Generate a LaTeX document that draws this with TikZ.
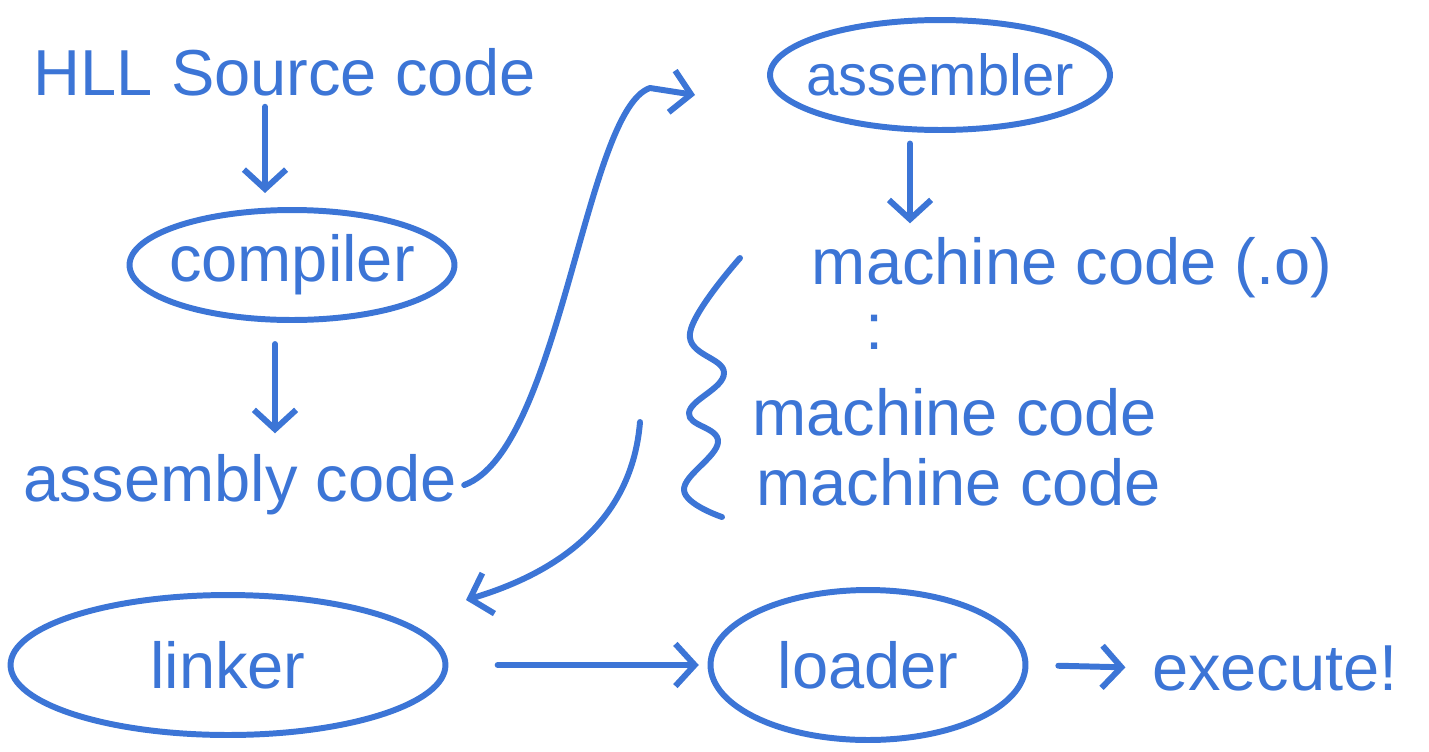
\documentclass[tikz,border=0pt]{standalone}
\usepackage{fontspec}
\setmainfont{Liberation Sans}
\usepackage{xcolor}
\usepackage{tikz}
\usetikzlibrary{positioning,shapes,arrows.meta}
\definecolor{pen}{RGB}{60,117,214}

\begin{document}
\begin{tikzpicture}[x=0.02cm,y=-0.02cm,
    pen/.style={draw=pen,line width=3.4pt,line cap=round,line join=round},
    word/.style={text=pen,font=\fontsize{37}{44}\selectfont,inner sep=0pt},
    oval/.style={ellipse,pen,text=pen,font=\fontsize{37}{44}\selectfont,inner xsep=-25pt,inner ysep=0pt},
    arrow/.style={pen,-{Straight Barb[length=11pt,width=24pt,line width=3.4pt]}}]
    \useasboundingbox (0,0) rectangle (1429,751);
    \node[word] (src) at (285,72) {HLL Source code};
    \node[oval,minimum width=6.5cm,minimum height=2.2cm] (comp) at (292,265) {compiler};
    \node[word] (asm) at (240,485) {assembly code};
    \node[oval,minimum width=6.8cm,minimum height=2.2cm,font=\fontsize{33}{40}\selectfont] (asmr) at (940,75) {assembler};
    \node[word] (mc) at (1072,268) {machine code (.o)};
    \node[word] (dots) at (875,332) {:};
    \node[word,anchor=west] (mc2) at (752,412) {machine code};
    \node[word,anchor=west] (mc3) at (756,482) {machine code};
    \node[oval,minimum width=8.7cm,minimum height=2.8cm] (link) at (228,665) {linker};
    \node[oval,minimum width=6.3cm,minimum height=3cm] (load) at (868,665) {loader};
    \node[word] (exec) at (1275,668) {execute!};
    \coordinate (asmin) at (695,95);
    \coordinate (bracetip) at (640,422);
    \coordinate (linkin) at (466,600);
    % flow
    \draw[arrow,shorten <=6pt,shorten >=8pt] (src.south -| 265,0) -- (comp.north -| 265,0);
    \draw[arrow,shorten <=12pt,shorten >=12pt] (comp.south -| 275,0) -- (asm.north -| 275,0);
    \draw[arrow] ([xshift=4pt]asm.east) .. controls (560,450) and (585,110) .. (650,88) -- (asmin);
    \draw[arrow,shorten <=6pt,shorten >=8pt] (asmr.south -| 910,0) -- (mc.north -| 910,0);
    \draw[pen] plot[smooth,tension=0.7] coordinates
        {(740,258) (690,333) (724,373) (689,413) (718,442) (684,490) (722,517)};
    \draw[arrow] (bracetip) .. controls (632,520) and (560,572) .. (linkin);
    \draw[arrow,shorten <=28pt,shorten >=5pt] (link.east) -- (load.west);
    \draw[arrow,shorten <=17pt,shorten >=15pt] (load.east) -- (exec.west);
\end{tikzpicture}
\end{document}
